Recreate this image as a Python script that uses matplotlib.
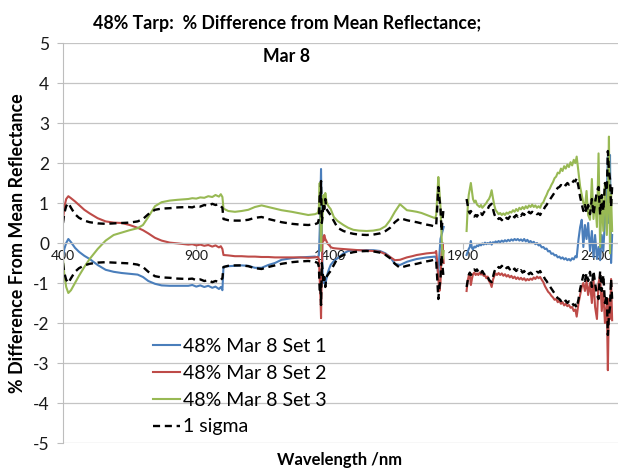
import numpy as np
import matplotlib
matplotlib.use("Agg")
import matplotlib.pyplot as plt

plt.rcParams['font.family'] = ['Lato', 'DejaVu Sans']

# ---------------- data ----------------
# Segment 1: 400-1000 nm
wl_a = [400, 405, 412, 420, 430, 445, 460, 480, 500, 530, 560, 590, 620, 650, 680,
        700, 720, 745, 770, 800, 830, 870, 885, 900, 915, 930, 945, 960, 972, 985, 992, 998]
set1_a = [-0.35, -0.15, 0.0, 0.1, 0.02, -0.12, -0.22, -0.32, -0.4, -0.55, -0.67, -0.72, -0.75, -0.77, -0.79,
          -0.85, -0.95, -1.02, -1.06, -1.07, -1.07, -1.07, -1.05, -1.09, -1.06, -1.10, -1.07, -1.12, -1.09, -1.15, -1.10, -1.18]
set2_a = [0.55, 0.9, 1.1, 1.17, 1.12, 1.04, 0.95, 0.83, 0.74, 0.62, 0.54, 0.51, 0.50, 0.45, 0.38,
          0.32, 0.24, 0.13, 0.06, 0.01, -0.01, -0.04, -0.03, -0.06, -0.04, -0.07, -0.05, -0.09, -0.06, -0.11, -0.08, -0.15]
set3_a = [-0.4, -0.8, -1.1, -1.25, -1.18, -1.0, -0.82, -0.6, -0.4, -0.15, 0.06, 0.2, 0.26, 0.32, 0.37,
          0.45, 0.65, 0.92, 1.02, 1.06, 1.08, 1.10, 1.12, 1.11, 1.14, 1.13, 1.17, 1.15, 1.20, 1.16, 1.22, 1.15]
sig_a = [0.5, 0.75, 0.92, 1.0, 0.88, 0.72, 0.63, 0.56, 0.52, 0.49, 0.48, 0.49, 0.5, 0.51, 0.54,
         0.6, 0.72, 0.83, 0.86, 0.87, 0.89, 0.90, 0.89, 0.93, 0.91, 0.95, 0.93, 0.98, 0.95, 0.97, 0.92, 0.88]

# Segment 2: 1000-1360 nm
wl_b = [1002, 1020, 1045, 1070, 1095, 1120, 1145, 1170, 1195, 1220, 1258, 1290, 1320, 1345, 1356]
set1_b = [-0.6, -0.58, -0.57, -0.56, -0.57, -0.62, -0.62, -0.55, -0.5, -0.42, -0.38, -0.36, -0.35, -0.34, -0.36]
set2_b = [-0.3, -0.31, -0.33, -0.33, -0.34, -0.34, -0.35, -0.35, -0.36, -0.36, -0.36, -0.36, -0.37, -0.36, -0.35]
set3_b = [0.86, 0.8, 0.78, 0.8, 0.83, 0.9, 0.94, 0.9, 0.86, 0.82, 0.78, 0.74, 0.7, 0.72, 0.75]
sig_b = [0.6, 0.57, 0.56, 0.56, 0.58, 0.63, 0.65, 0.6, 0.56, 0.52, 0.48, 0.46, 0.45, 0.47, 0.5]

# Segment 3: water band 1360-1416 nm
wl_c = [1360, 1363, 1366, 1368, 1371, 1374, 1377, 1380, 1384, 1388, 1393, 1398, 1404, 1410, 1416]
set1_c = [-0.3, 0.3, 1.2, 1.85, 0.2, -0.8, -1.0, -0.85, -1.05, -0.9, -0.75, -0.65, -0.55, -0.5, -0.45]
set2_c = [-0.4, -0.9, -1.4, -1.88, -0.6, 0.15, 0.05, 0.2, 0.1, 0.05, -0.02, -0.05, -0.1, -0.12, -0.13]
set3_c = [0.9, 1.5, 0.4, -0.2, 0.5, 0.7, 1.2, 0.9, 1.25, 1.05, 0.95, 0.9, 0.85, 0.75, 0.65]
sig_c = [0.6, 1.2, 1.1, 1.55, 0.5, 0.7, 1.0, 0.85, 1.1, 0.85, 0.8, 0.75, 0.7, 0.62, 0.55]

# Segment 4: 1430-1796 nm
wl_d = [1430, 1452, 1470, 1489, 1510, 1539, 1564, 1589, 1610, 1627, 1645, 1664, 1690, 1710, 1727,
        1745, 1764, 1780, 1796]
set1_d = [-0.38, -0.26, -0.2, -0.18, -0.18, -0.18, -0.18, -0.2, -0.26, -0.35, -0.52, -0.55, -0.47, -0.43, -0.4,
          -0.38, -0.36, -0.35, -0.34]
set2_d = [-0.14, -0.15, -0.16, -0.17, -0.18, -0.19, -0.2, -0.22, -0.28, -0.35, -0.43, -0.42, -0.36, -0.33, -0.3,
          -0.28, -0.26, -0.25, -0.24]
set3_d = [0.55, 0.45, 0.38, 0.33, 0.31, 0.3, 0.31, 0.34, 0.42, 0.57, 0.78, 0.97, 0.82, 0.8, 0.78,
          0.75, 0.7, 0.66, 0.62]
sig_d = [0.38, 0.3, 0.26, 0.23, 0.21, 0.2, 0.21, 0.24, 0.3, 0.38, 0.52, 0.62, 0.57, 0.54, 0.52,
         0.49, 0.46, 0.44, 0.41]

# Segment 5: 1800-1828 nm
wl_e = [1800, 1804, 1808, 1812, 1816, 1820, 1824, 1828]
set1_e = [-0.4, -0.6, -0.8, -0.3, 0.1, 0.2, 0.3, 0.4]
set2_e = [-0.2, -0.5, -0.9, -1.2, -1.0, -0.3, 0.0, -0.5]
set3_e = [0.7, 1.2, 1.65, 1.3, 0.9, 0.2, -0.4, -0.2]
sig_e = [0.45, 0.9, 1.4, 1.1, 0.9, 0.3, 0.6, 0.9]

# Segment 6: 1914-2327 nm
wl_f = [1914, 1918, 1922, 1926, 1930, 1934, 1938, 1943, 1948, 1953, 1958, 1963, 1968, 1973, 1978,
        1983, 1988, 1993, 1998, 2003, 2008, 2013, 2018, 2023, 2028, 2034, 2040, 2046, 2052, 2058,
        2064, 2070, 2076, 2082, 2088, 2094, 2100, 2106, 2112, 2118, 2124, 2130, 2136, 2142, 2148,
        2154, 2160, 2166, 2172, 2178, 2184, 2190, 2196, 2202, 2208, 2214, 2220, 2226, 2232, 2238,
        2244, 2250, 2256, 2262, 2268, 2274, 2280, 2286, 2292, 2298, 2304, 2310, 2316, 2322, 2327]
set1_f = [-0.30, -0.22, -0.15, -0.10, 0.05, -0.12, -0.16, -0.09, -0.11, -0.06, -0.08, -0.03, -0.06, -0.01, -0.04,
          0.01, -0.03, 0.00, -0.02, 0.02, -0.04, 0.02, 0.00, 0.04, 0.01, 0.05, 0.02, 0.06, 0.03, 0.07,
          0.04, 0.08, 0.05, 0.09, 0.06, 0.10, 0.07, 0.10, 0.06, 0.09, 0.05, 0.10, 0.04, 0.08, 0.02,
          0.05, 0.00, 0.03, -0.03, 0.00, -0.06, -0.05, -0.11, -0.10, -0.15, -0.14, -0.21, -0.20, -0.27, -0.26,
          -0.31, -0.30, -0.36, -0.34, -0.39, -0.36, -0.41, -0.38, -0.43, -0.40, -0.44, -0.38, -0.41, -0.33, -0.36]
set2_f = [-1.20, -0.95, -0.82, -0.78, -1.05, -0.90, -0.78, -0.74, -0.80, -0.76, -0.80, -0.74, -0.79, -0.76, -0.82,
          -0.80, -0.88, -0.84, -0.95, -1.00, -1.10, -0.92, -0.82, -0.76, -0.80, -0.75, -0.80, -0.76, -0.82, -0.78,
          -0.84, -0.80, -0.86, -0.82, -0.88, -0.84, -0.90, -0.86, -0.91, -0.87, -0.92, -0.88, -0.94, -0.90, -0.93,
          -0.89, -0.92, -0.86, -0.90, -0.84, -0.88, -0.85, -0.92, -0.98, -1.08, -1.15, -1.22, -1.26, -1.32, -1.36,
          -1.42, -1.40, -1.48, -1.44, -1.52, -1.48, -1.56, -1.52, -1.58, -1.55, -1.62, -1.60, -1.70, -1.66, -1.84]
set3_f = [0.30, 0.85, 1.20, 1.35, 1.50, 1.30, 1.10, 1.02, 1.06, 0.96, 0.93, 0.90, 0.95, 0.88, 0.92,
          0.96, 1.00, 1.06, 1.10, 1.18, 1.32, 1.12, 0.94, 0.82, 0.78, 0.72, 0.75, 0.70, 0.74, 0.70,
          0.76, 0.73, 0.78, 0.76, 0.82, 0.78, 0.85, 0.80, 0.88, 0.84, 0.90, 0.85, 0.92, 0.87, 0.94,
          0.90, 0.96, 0.90, 0.94, 0.88, 0.92, 0.88, 0.98, 1.02, 1.12, 1.20, 1.30, 1.36, 1.45, 1.52,
          1.62, 1.66, 1.76, 1.74, 1.86, 1.80, 1.92, 1.86, 1.96, 1.90, 2.02, 1.94, 2.08, 2.00, 2.16]
sig_f = [1.10, 0.95, 0.80, 0.74, 0.80, 0.76, 0.70, 0.66, 0.70, 0.66, 0.72, 0.68, 0.74, 0.70, 0.76,
         0.80, 0.85, 0.84, 0.92, 0.95, 0.98, 0.85, 0.72, 0.64, 0.66, 0.60, 0.62, 0.57, 0.62, 0.58,
         0.63, 0.60, 0.66, 0.62, 0.68, 0.64, 0.70, 0.66, 0.72, 0.68, 0.74, 0.70, 0.76, 0.72, 0.78,
         0.74, 0.78, 0.74, 0.76, 0.72, 0.74, 0.70, 0.78, 0.82, 0.90, 0.95, 1.02, 1.08, 1.14, 1.20,
         1.26, 1.32, 1.38, 1.40, 1.45, 1.42, 1.48, 1.44, 1.50, 1.46, 1.52, 1.50, 1.56, 1.54, 1.62]

# Segment 7: 2334-2460 nm (noisy detector edge)
wl_g = [2334, 2340, 2346, 2352, 2358, 2364, 2370, 2377, 2384, 2390, 2396, 2403, 2409, 2415, 2421,
        2427, 2433, 2440, 2444, 2448, 2452, 2456, 2460]
set1_g = [0.1, 0.4, 0.58, -0.1, 0.45, 0.1, 0.5, -0.2, 0.3, -0.35, 0.2, -0.4, -0.1, -0.43, 0.2,
          -0.2, 0.6, 1.2, 2.16, 0.5, 2.2, -0.5, 0.2]
set2_g = [-1.5, -1.3, -1.1, -1.0, -1.2, -0.95, -1.3, -1.0, -1.5, -0.9, -1.6, -1.9, -1.0, -0.8, -1.7,
          -1.2, -2.0, -1.5, -3.18, -1.4, -1.9, -0.9, -1.93]
set3_g = [1.75, 1.41, 1.2, 1.0, 0.9, 1.3, 0.7, 0.58, 1.6, 0.6, 1.1, 0.4, 2.24, -0.1, 1.2,
          0.3, 1.5, 0.2, 1.0, 2.66, -0.26, 1.2, 0.3]
sig_g = [1.4, 1.15, 0.98, 0.8, 0.95, 0.75, 0.95, 0.72, 1.1, 0.7, 1.0, 1.3, 1.4, 0.7, 1.2,
         0.8, 1.5, 1.3, 2.3, 1.8, 1.6, 0.9, 1.4]

# gap (atmospheric water band) between segments 5 and 6
gap_wl = [1870]
gap_val = [np.nan]

labels = ["48% Mar 8 Set 1", "48% Mar 8 Set 2", "48% Mar 8 Set 3", "1 sigma"]
x_ticks = [400, 900, 1400, 1900, 2400]
y_ticks = [-5, -4, -3, -2, -1, 0, 1, 2, 3, 4, 5]

wl = np.array(wl_a + wl_b + wl_c + wl_d + wl_e + gap_wl + wl_f + wl_g, dtype=float)
set1 = np.array(set1_a + set1_b + set1_c + set1_d + set1_e + gap_val + set1_f + set1_g, dtype=float)
set2 = np.array(set2_a + set2_b + set2_c + set2_d + set2_e + gap_val + set2_f + set2_g, dtype=float)
set3 = np.array(set3_a + set3_b + set3_c + set3_d + set3_e + gap_val + set3_f + set3_g, dtype=float)
sigma = np.array(sig_a + sig_b + sig_c + sig_d + sig_e + gap_val + sig_f + sig_g, dtype=float)

# ---------------- figure ----------------
W, H = 618, 469
fig = plt.figure(figsize=(W / 100, H / 100), dpi=100)
ax = fig.add_axes([63 / W, 1 - 443 / H, (618 - 63) / W, 400 / H])

c1, c2, c3 = '#4A7EBB', '#BE4B48', '#98B954'
ax.plot(wl, set1, color=c1, lw=1.5, label=labels[0])
ax.plot(wl, set2, color=c2, lw=1.5, label=labels[1])
ax.plot(wl, set3, color=c3, lw=1.5, label=labels[2])
ax.plot(wl, sigma, color='black', lw=1.7, dashes=(3, 2), label=labels[3])
ax.plot(wl, -sigma, color='black', lw=1.7, dashes=(3, 2))

ax.set_xlim(400, 2482)
ax.set_ylim(-5, 5)
ax.set_yticks(y_ticks)
ax.set_yticklabels([str(v) for v in y_ticks], fontsize=12.5)
ax.set_xticks(x_ticks)
ax.set_xticklabels([str(v) for v in x_ticks], fontsize=12.5)
ax.grid(axis='y', color='#C4C4C4', lw=0.9)
ax.set_axisbelow(True)

for s in ['top', 'right']:
    ax.spines[s].set_visible(False)
ax.spines['left'].set_color('#BDBDBD')
ax.spines['bottom'].set_position(('data', 0))
ax.spines['bottom'].set_color('#C4C4C4')
ax.tick_params(axis='y', length=4, color='#BDBDBD', pad=6, labelcolor='#1a1a1a')
ax.tick_params(axis='x', length=4, color='#BDBDBD', pad=1, labelcolor='#1a1a1a')

leg = ax.legend(loc='upper left', bbox_to_anchor=(0.162, 0.262), frameon=False,
                fontsize=14, handlelength=1.4, handletextpad=0.15, labelspacing=0.5,
                borderaxespad=0, borderpad=0)

fig.text(287 / W, 1 - 23 / H, "48% Tarp:  % Difference from Mean Reflectance;",
         ha='center', va='center', fontsize=12.8, fontweight='bold')
fig.text(287 / W, 1 - 57 / H, "Mar 8", ha='center', va='center', fontsize=12.8, fontweight='bold')
fig.text(18 / W, 1 - 243 / H, "% Difference From Mean Reflectance", rotation=90,
         ha='center', va='center', fontsize=12.9, fontweight='bold')
fig.text(340 / W, 1 - 460 / H, "Wavelength /nm", ha='center', va='center',
         fontsize=12, fontweight='bold')

fig.savefig('out.png', dpi=100)
